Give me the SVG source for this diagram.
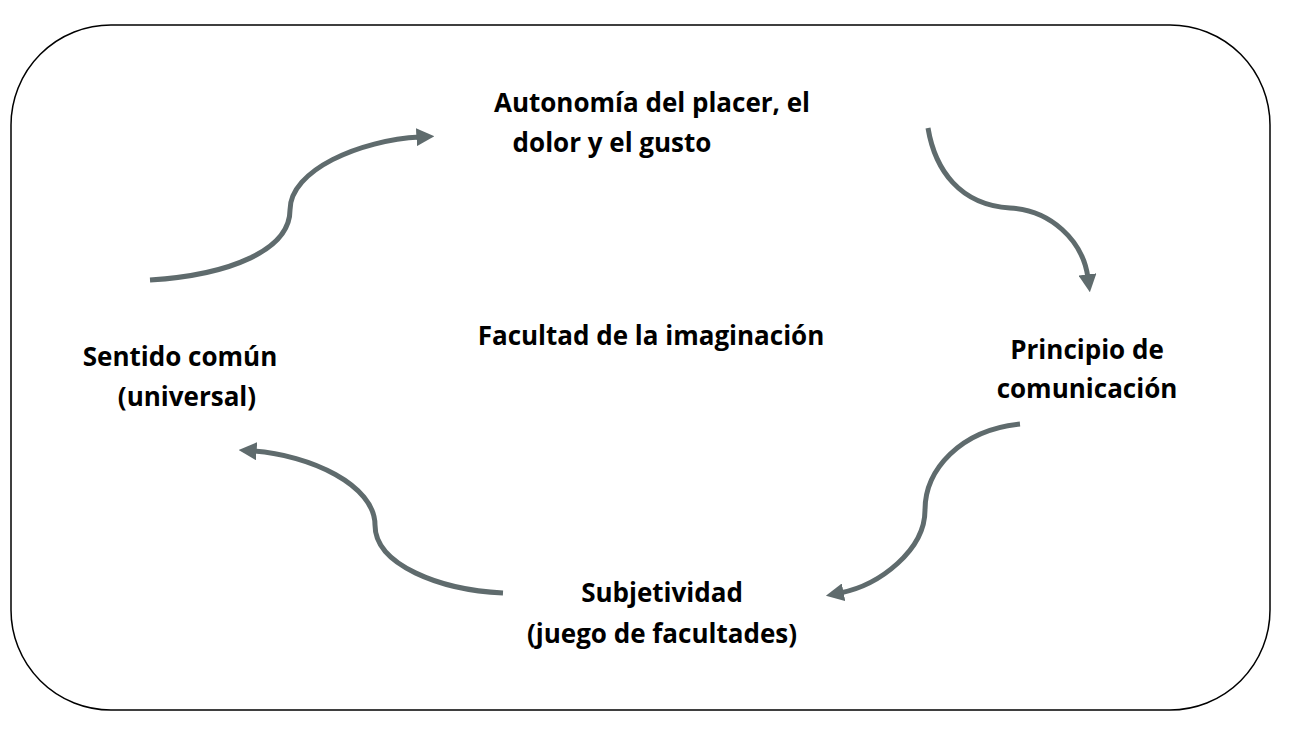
<svg xmlns="http://www.w3.org/2000/svg" width="1299" height="736" viewBox="0 0 1299 736">
<style>
.t{font-family:"Open Sans","Liberation Sans",sans-serif;font-weight:bold;font-size:26px;fill:#000;text-anchor:middle}
.c{fill:none;stroke:#5f6b6d;stroke-width:5;marker-end:url(#ah)}
</style>
<defs><marker id="ah" viewBox="0 0 10 10" refX="2" refY="5" markerWidth="3.6" markerHeight="3.6" orient="auto" markerUnits="strokeWidth"><path d="M0,0L10,5L0,10z" fill="#5f6b6d"/></marker></defs>
<rect x="11" y="25" width="1259" height="685" rx="100" fill="#fff" stroke="#000" stroke-width="1.5"/>
<g id="connectors">
<path class="c" d="M150,280 C230,275 290,250 290,210 C290,170 360,140 420,137"/>
<path class="c" d="M928,128 C935,170 960,205 1010,208 C1050,210 1083,240 1088,278"/>
<path class="c" d="M1020,424 C960,430 925,470 925,510 C925,550 880,585 840,593"/>
<path class="c" d="M503,593 C440,590 375,565 375,525 C375,485 310,455 253,451"/>
</g>
<g id="n1"><text class="t" x="652" y="112">Autonomía del placer, el</text><text class="t" x="612" y="152">dolor y el gusto</text></g>
<g id="n2"><text class="t" x="1087" y="359">Principio de</text><text class="t" x="1087" y="398">comunicación</text></g>
<g id="n3"><text class="t" x="662" y="602">Subjetividad</text><text class="t" x="662" y="643">(juego de facultades)</text></g>
<g id="n4"><text class="t" x="180" y="366">Sentido común</text><text class="t" x="187" y="406">(universal)</text></g>
<g id="center"><text class="t" x="651" y="345">Facultad de la imaginación</text></g>
</svg>
